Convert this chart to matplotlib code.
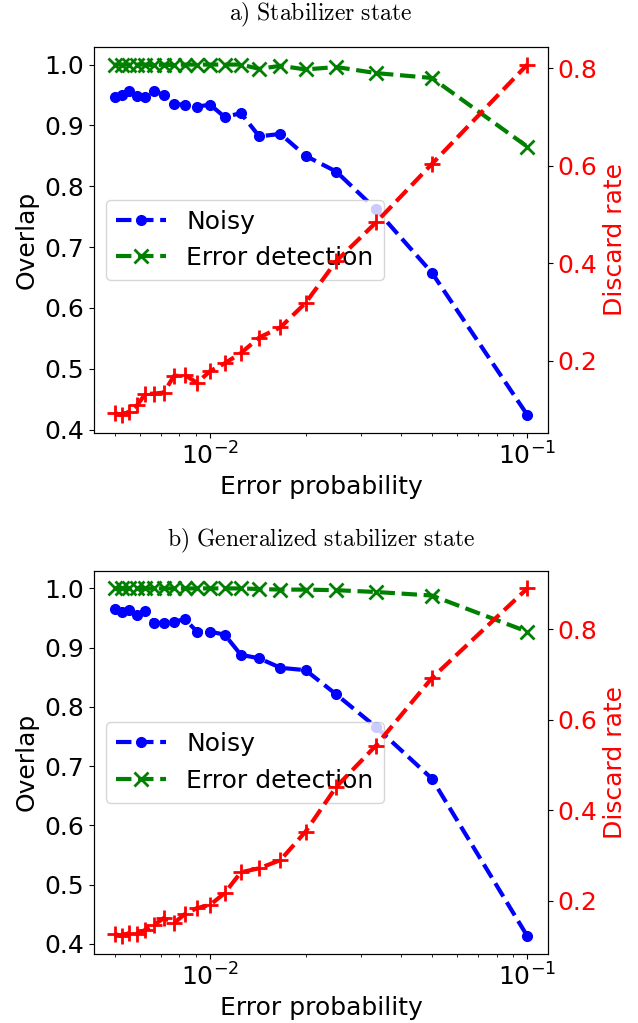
import numpy as np
import matplotlib
matplotlib.use('Agg')
import matplotlib.pyplot as plt
from matplotlib.ticker import MultipleLocator

MEDIUM_SIZE = 18
plt.rcParams['mathtext.fontset'] = 'dejavusans'

# error probabilities p = 1/n
n_values = [200, 190, 180, 170, 160, 150, 140, 130, 120, 110,
            100, 90, 80, 70, 60, 50, 40, 30, 20, 10]
error_prob = [1.0 / n for n in n_values]

# a) stabilizer state
noisy_a = [0.947, 0.950, 0.957, 0.948, 0.946, 0.956, 0.950, 0.935, 0.934, 0.931,
           0.934, 0.914, 0.920, 0.882, 0.886, 0.850, 0.824, 0.762, 0.658, 0.424]
detect_a = [1.0, 1.0, 1.0, 1.0, 1.0, 0.999, 1.0, 0.999, 1.0, 1.0,
            1.0, 1.0, 1.0, 0.993, 0.998, 0.992, 0.996, 0.986, 0.978, 0.865]
discard_a = [0.093, 0.089, 0.096, 0.109, 0.132, 0.133, 0.135, 0.169, 0.171, 0.155,
             0.179, 0.195, 0.216, 0.248, 0.269, 0.319, 0.405, 0.484, 0.604, 0.808]

# b) generalized stabilizer state
noisy_b = [0.965, 0.960, 0.964, 0.955, 0.962, 0.941, 0.942, 0.944, 0.948, 0.927,
           0.927, 0.922, 0.888, 0.882, 0.866, 0.862, 0.821, 0.766, 0.679, 0.413]
detect_b = [1.0, 1.0, 1.0, 1.0, 1.0, 1.0, 1.0, 1.0, 1.0, 1.0,
            1.0, 1.0, 1.0, 0.999, 0.998, 0.998, 0.997, 0.994, 0.988, 0.927]
discard_b = [0.127, 0.122, 0.129, 0.127, 0.136, 0.147, 0.162, 0.151, 0.171, 0.184,
             0.191, 0.217, 0.263, 0.272, 0.290, 0.353, 0.452, 0.543, 0.692, 0.890]

titles = [r'$\mathrm{a)\ Stabilizer\ state}$',
          r'$\mathrm{b)\ Generalized\ stabilizer\ state}$']


def plot_panel(fig, rect, title, title_y, noisy, detect, discard):
    ax = fig.add_axes(rect)
    ax.plot(error_prob, noisy, 'b--o', linewidth=3, markersize=7, label='Noisy')
    ax.plot(error_prob, detect, 'g--x', linewidth=3, markersize=10, mew=2,
            label='Error detection')
    ax.set_xscale('log')
    ax.set_xlabel('Error probability', fontsize=MEDIUM_SIZE)
    ax.set_ylabel('Overlap', fontsize=MEDIUM_SIZE)
    ax.tick_params(labelsize=MEDIUM_SIZE)
    ax.legend(loc='center left', fontsize=MEDIUM_SIZE)
    ax2 = ax.twinx()
    ax2.plot(error_prob, discard, 'r--+', linewidth=3, markersize=11, mew=2)
    ax2.yaxis.set_major_locator(MultipleLocator(0.2))
    ax2.set_ylabel('Discard rate', color='r', fontsize=MEDIUM_SIZE)
    ax2.tick_params(axis='y', labelcolor='r', labelsize=MEDIUM_SIZE)
    with plt.rc_context({'mathtext.fontset': 'cm'}):
        fig.text(0.503, title_y, title, ha='center', va='center', fontsize=17)
    return ax, ax2


def main():
    fig = plt.figure(figsize=(6.38, 10.23), dpi=100)
    plot_panel(fig, [0.1473, 0.5772, 0.7116, 0.3768], titles[0], 0.985,
               noisy_a, detect_a, discard_a)
    plot_panel(fig, [0.1473, 0.0679, 0.7116, 0.3739], titles[1], 0.4716,
               noisy_b, detect_b, discard_b)
    fig.savefig('out.png', dpi=100)
    plt.close(fig)


if __name__ == '__main__':
    main()
